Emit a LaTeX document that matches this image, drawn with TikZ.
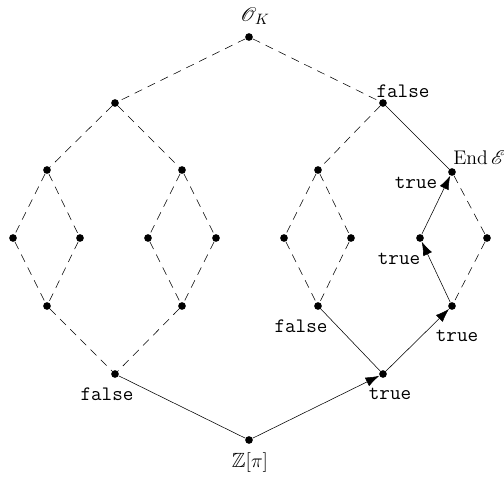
\documentclass[tikz,border=0pt]{standalone}
\usepackage{amsmath,amssymb,mathrsfs}
\usetikzlibrary{arrows.meta,calc}
\begin{document}
\begin{tikzpicture}[x=0.73pt,y=-0.73pt,
  dot/.style={circle,fill=black,inner sep=0pt,minimum size=5.6pt},
  dsh/.style={dash pattern=on 6pt off 4.5pt},
  arr/.style={-{Latex[length=10pt,width=7pt]}},
  big/.style={font=\fontsize{15}{18}\selectfont,inner sep=0pt},
  lbl/.style={font=\fontsize{15}{18}\selectfont\ttfamily,inner sep=0pt}]
\useasboundingbox (0,0) rectangle (504,478);
% nodes
\node[dot] (t) at (249,37) {};
\node[dot] (a1) at (115,103) {};
\node[dot] (a2) at (383,103) {};
\node[dot] (b1) at (47,170) {};
\node[dot] (b2) at (182,170) {};
\node[dot] (b3) at (318,170) {};
\node[dot] (b4) at (452,172) {};
\node[dot] (c1) at (13,238) {};
\node[dot] (c2) at (80,238) {};
\node[dot] (c3) at (148,238) {};
\node[dot] (c4) at (216,238) {};
\node[dot] (c5) at (284,238) {};
\node[dot] (c6) at (351,238) {};
\node[dot] (c7) at (420,238) {};
\node[dot] (c8) at (487,238) {};
\node[dot] (d1) at (47,306) {};
\node[dot] (d2) at (182,306) {};
\node[dot] (d3) at (318,306) {};
\node[dot] (d4) at (452,306) {};
\node[dot] (e1) at (115,374) {};
\node[dot] (e2) at (383,374) {};
\node[dot] (z) at (249,440) {};
% dashed lattice
\draw[dsh] (t)--(a1) (t)--(a2);
\draw[dsh] (a1)--(b1) (a1)--(b2) (a2)--(b3);
\draw[dsh] (b1)--(c1) (b1)--(c2) (b2)--(c3) (b2)--(c4) (b3)--(c5) (b3)--(c6) (b4)--(c8);
\draw[dsh] (c1)--(d1) (c2)--(d1) (c3)--(d2) (c4)--(d2) (c5)--(d3) (c6)--(d3) (c8)--(d4);
\draw[dsh] (d1)--(e1) (d2)--(e1);
% solid
\draw (e1)--(z);
\draw (d3)--(e2);
\draw (a2)--(b4);
\draw[arr] (z)--(e2);
\draw[arr] (e2)--(d4);
\draw[arr] (d4)--(c7);
\draw[arr] (c7)--(b4);
% labels
\node[big] (lt) at ($(t)+(6,-21)$) {$\mathscr{O}_K$};
\node[lbl] (la2) at ($(a2)+(20,-12)$) {false};
\node[big,anchor=base west] (lb4) at ($(b4)+(1,-7)$) {$\operatorname{End}\mathscr{E}$};
\node[lbl] (lb4t) at ($(b4)+(-36,11)$) {true};
\node[lbl] (lc7) at ($(c7)+(-21,21)$) {true};
\node[lbl] (ld4) at ($(d4)+(5,30)$) {true};
\node[lbl] (le2) at ($(e2)+(7,20)$) {true};
\node[lbl] (ld3) at ($(d3)+(-17,20)$) {false};
\node[lbl] (le1) at ($(e1)+(-8,20)$) {false};
\node[big] (lz) at ($(z)+(1,23)$) {$\mathbb{Z}[\pi]$};
\end{tikzpicture}
\end{document}
